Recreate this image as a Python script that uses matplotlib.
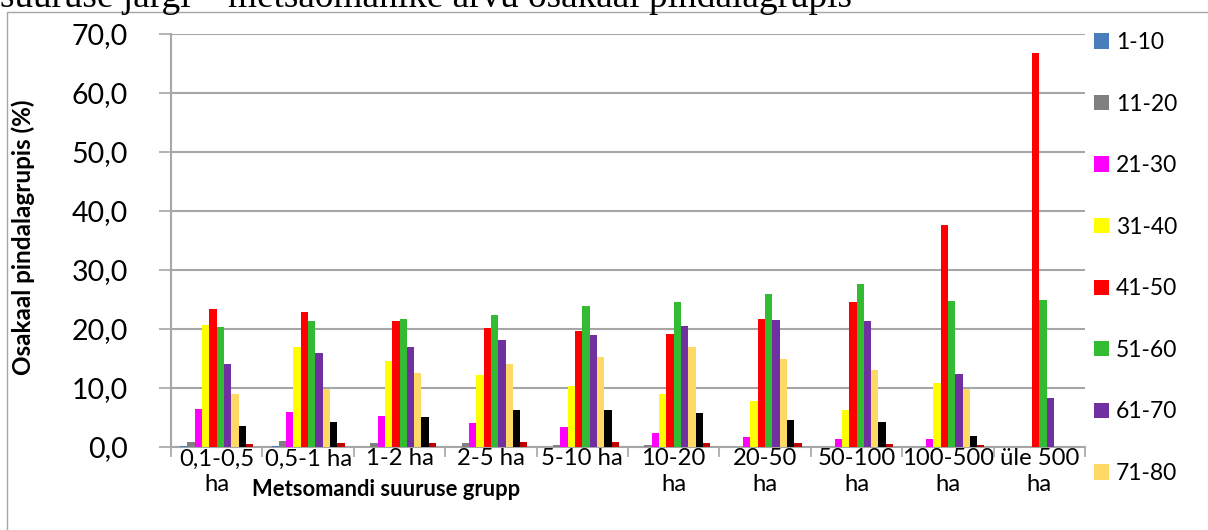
import matplotlib
matplotlib.use("Agg")
import matplotlib.pyplot as plt
import matplotlib.ticker as mticker
from matplotlib.patches import Rectangle
import numpy as np

plt.rcParams['font.family'] = ['Lato', 'DejaVu Sans']

# metsomandi suuruse grupid
kategooriad = ["0,1-0,5\nha", "0,5-1 ha", "1-2 ha", "2-5 ha", "5-10 ha",
               "10-20\nha", "20-50\nha", "50-100\nha", "100-500\nha", "üle 500\nha"]

# vanusegrupid (viimased kaks legendis ei paista)
vanused = ["1-10", "11-20", "21-30", "31-40", "41-50",
           "51-60", "61-70", "71-80", "81-90", "91-100"]

v_1_10 = [0.2, 0.2, 0.0, 0.0, 0.0, 0.0, 0.0, 0.0, 0.0, 0.0]
v_11_20 = [0.8, 1.0, 0.6, 0.6, 0.4, 0.3, 0.0, 0.0, 0.0, 0.0]
v_21_30 = [6.4, 5.9, 5.2, 4.0, 3.4, 2.3, 1.7, 1.4, 1.3, 0.0]
v_31_40 = [20.6, 17.0, 14.6, 12.2, 10.3, 8.9, 7.8, 6.2, 10.8, 0.0]
v_41_50 = [23.4, 22.8, 21.4, 20.1, 19.6, 19.1, 21.7, 24.6, 37.6, 66.7]
v_51_60 = [20.3, 21.3, 21.7, 22.3, 23.9, 24.5, 25.9, 27.7, 24.7, 25.0]
v_61_70 = [14.1, 16.0, 16.9, 18.1, 18.9, 20.5, 21.5, 21.4, 12.3, 8.3]
v_71_80 = [8.9, 9.8, 12.5, 14.1, 15.3, 17.0, 15.0, 13.1, 9.8, 0.0]
v_81_90 = [3.6, 4.2, 5.1, 6.2, 6.2, 5.7, 4.6, 4.2, 1.9, 0.0]
v_91_100 = [0.5, 0.6, 0.7, 0.9, 0.8, 0.7, 0.7, 0.5, 0.4, 0.0]

seeriad = [v_1_10, v_11_20, v_21_30, v_31_40, v_41_50,
           v_51_60, v_61_70, v_71_80, v_81_90, v_91_100]
varvid = ['#4A7EBB', '#808080', '#FF00FF', '#FFFF00', '#FF0000',
          '#33BB33', '#7030A0', '#FFD966', '#000000', '#C00000']

W, H = 1208, 530
fig = plt.figure(figsize=(W / 100, H / 100), dpi=100)
ax = fig.add_axes([171 / W, 1 - 447 / H, (1085 - 171) / W, (447 - 34) / H])

x = np.arange(len(kategooriad))
laius = 0.08
tulbad = []
for i, (vaartused, nimi, varv) in enumerate(zip(seeriad, vanused, varvid)):
    t = ax.bar(x + (i - 4.5) * laius, vaartused, laius, color=varv,
               label=nimi, zorder=3)
    tulbad.append(t)

hall = '#A6A6A6'
ax.set_xlim(-0.5, 9.5)
ax.set_ylim(0, 70)
ax.set_yticks(np.arange(0, 71, 10))
ax.yaxis.set_major_formatter(mticker.FuncFormatter(
    lambda v, p: f"{v:.1f}".replace(".", ",")))
ax.grid(axis='y', color=hall, lw=1.5, zorder=0)
ax.tick_params(axis='y', labelsize=20.5, length=9, width=1.2, color=hall,
               pad=22)

ax.set_xticks(x)
ax.set_xticklabels(kategooriad, fontsize=17.2, linespacing=1.25)
ax.set_xticks(np.arange(-0.5, 10, 1), minor=True)
ax.tick_params(axis='x', which='major', length=0, pad=1)
ax.tick_params(axis='x', which='minor', length=7, width=1.2, color=hall)

for s in ['top', 'right']:
    ax.spines[s].set_visible(False)
for s in ['left', 'bottom']:
    ax.spines[s].set_color(hall)
    ax.spines[s].set_linewidth(1.5)

ax.set_ylabel('Osakaal pindalagrupis (%)', fontsize=17.5, fontweight='bold')
ax.yaxis.set_label_coords((35 - 171) / 914, 0.508)
fig.text(386 / W, 1 - 489 / H, 'Metsomandi suuruse grupp', fontsize=15.8,
         fontweight='bold', ha='center', va='center')

# legendis on näha ainult esimesed kaheksa gruppi
ax.legend(tulbad[:8], vanused[:8], loc='upper left',
          bbox_to_anchor=(1094 / W, 1 - 32 / H),
          bbox_transform=fig.transFigure, frameon=False, fontsize=16.5,
          handlelength=0.65, handleheight=0.65, handletextpad=0.3,
          labelspacing=1.77, borderpad=0, borderaxespad=0)

# raam ja poolikult näha olev pealkiri
fig.add_artist(Rectangle((7 / W, -0.5), 2, 0.5 + 1 - 12 / H, fill=False,
                         edgecolor=hall, lw=1, transform=fig.transFigure))
fig.text(0.0, 1 - 7 / H,
         'suuruse järgi – metsaomanike arvu osakaal pindalagrupis',
         family='Liberation Serif', fontsize=26.8, va='baseline', ha='left')

fig.savefig('out.png', dpi=100)
